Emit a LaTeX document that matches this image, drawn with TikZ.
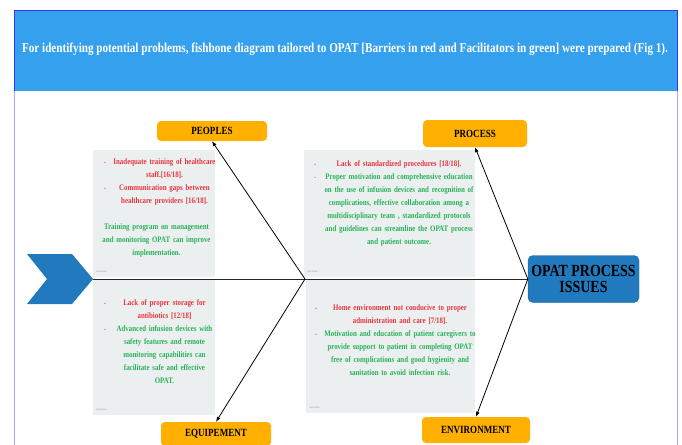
\documentclass[tikz,border=0pt]{standalone}
\usepackage{fontspec}
\setmainfont{Liberation Serif}[FakeStretch=0.82]
\usepackage{xcolor}
\usetikzlibrary{arrows.meta,positioning,calc}

\definecolor{headblue}{HTML}{35A0EE}
\definecolor{frameblue}{HTML}{3434FF}
\definecolor{issueblue}{HTML}{2179BE}
\definecolor{boneorange}{HTML}{FFB000}
\definecolor{panelgray}{HTML}{ECEFEF}
\definecolor{barred}{HTML}{E8343F}
\definecolor{facgreen}{HTML}{26B25A}

\newcommand{\rbul}{\textcolor{barred}{\tiny\textbullet}}
\newcommand{\gbul}{\textcolor{facgreen}{\tiny\textbullet}}
% one bullet point: fixed bullet column, centred text beside it
\newcommand{\bonepoint}[3]{\par\noindent\makebox[16pt][c]{#1}\parbox[t]{#2}{\centering #3\par\xdef\bonedepth{\the\prevdepth}}\par\prevdepth=\bonedepth\relax}

\tikzset{
  bone/.style={draw=black!85, line width=1pt},
  cause/.style={draw=black, line width=0.8pt, -{Latex[length=5pt,width=4pt]}},
  label box/.style={fill=boneorange, rounded corners=4pt, inner sep=0pt, font=\fontsize{11}{12}\bfseries\selectfont},
  panel/.style={fill=panelgray, inner sep=0pt},
  panel text/.style={inner sep=0pt, align=center, font=\fontsize{8.4}{13}\bfseries\selectfont},
  sign/.style={text=black!40, font=\fontsize{2.5}{3}\selectfont, inner sep=0pt, anchor=south west},
}

\begin{document}
\begin{tikzpicture}[x=1pt,y=-1pt]
\useasboundingbox (0,0) rectangle (682,444);

% Frame and header
\draw[frameblue!45, line width=1pt] (14,91) -- (14,450);
\draw[frameblue!45, line width=1pt] (677,91) -- (677,450);
\fill[headblue] (14,11) rectangle (677,91);
\draw[frameblue, line width=1pt] (14,91) -- (14,11) -- (677,11) -- (677,91);
\node[text=white, font=\fontsize{13.6}{16}\bfseries\selectfont] (title) at (345,49)
  {For identifying potential problems, fishbone diagram tailored to OPAT [Barriers in red and Facilitators in green] were prepared (Fig 1).};

% Panels
\node[panel, minimum width=122, minimum height=127] (panelA) at (154,213.5) {};
\node[panel, minimum width=171, minimum height=127] (panelB) at (389.5,213.5) {};
\node[panel, minimum width=122, minimum height=136] (panelC) at (154,347) {};
\node[panel, minimum width=169, minimum height=134] (panelD) at (390.5,346) {};

\node[sign, above right=4pt and 3pt of panelA.south west] {Amit Mathur};
\node[sign, above right=4pt and 3pt of panelB.south west] {Amit Mathur};
\node[sign, above right=4pt and 3pt of panelC.south west] {Amit Mathur};
\node[sign, above right=4pt and 3pt of panelD.south west] {Amit Mathur};

% Panel texts
\node[panel text, text width=121, anchor=north west] (textA) at ($(panelA.north west)+(3,1)$) {%
  \bonepoint{\rbul}{103pt}{\textcolor{barred}{Inadequate training of healthcare\\ staff.[16/18].}}
  \bonepoint{\rbul}{103pt}{\textcolor{barred}{Communication gaps between\\ healthcare providers [16/18].}}
  \vspace{13pt}
  \centering\textcolor{facgreen}{Training program on management\\ and monitoring OPAT can improve\\ implementation.}};
\node[panel text, text width=168, anchor=north west] (textB) at ($(panelB.north west)+(3,3)$) {%
  \bonepoint{\rbul}{152pt}{\textcolor{barred}{Lack of standardized procedures [18/18].}}
  \bonepoint{\gbul}{152pt}{\textcolor{facgreen}{Proper motivation and comprehensive education\\ on the use of infusion devices and recognition of\\ complications, effective collaboration among a\\ multidisciplinary team , standardized protocols\\ and guidelines can streamline the OPAT process\\ and patient outcome.}}};
\node[panel text, text width=121, anchor=north west] (textC) at ($(panelC.north west)+(3,13)$) {%
  \bonepoint{\rbul}{103pt}{\textcolor{barred}{Lack of proper storage for\\ antibiotics [12/18]}}
  \bonepoint{\gbul}{103pt}{\textcolor{facgreen}{Advanced infusion devices with\\ safety features and remote\\ monitoring capabilities can\\ facilitate safe and effective\\ OPAT.}}};
\node[panel text, text width=168, anchor=north west] (textD) at ($(panelD.north west)+(2,18)$) {%
  \bonepoint{\rbul}{152pt}{\textcolor{barred}{Home environment not conducive to proper\\ administration and care [7/18].}}
  \bonepoint{\gbul}{152pt}{\textcolor{facgreen}{Motivation and education of patient caregivers to\\ provide support to patient in completing OPAT\\ free of complications and good hygienity and\\ sanitation to avoid infection risk.}}};

% Tail and head of the fish
\fill[issueblue] (27,254) -- (72,254) -- (93,279) -- (72,304) -- (27,304) -- (47,279) -- cycle;
\coordinate (tail) at (93,279);
\node[fill=issueblue, draw=issueblue!80!black, rounded corners=5pt, minimum width=111, minimum height=47,
  inner sep=0pt, align=center, font=\fontsize{17}{16}\bfseries\selectfont] (issue) at (583.5,279)
  {OPAT PROCESS\\ ISSUES};

% Category boxes
\node[label box, minimum width=110, minimum height=20] (peoples) at (212,131) {PEOPLES};
\node[label box, minimum width=104, minimum height=27] (process) at (475,133.5) {PROCESS};
\node[label box, minimum width=110, minimum height=24] (equip) at (216,434) {EQUIPEMENT};
\node[label box, minimum width=108, minimum height=26] (env) at (476,430) {ENVIRONMENT};

% Spine and bones
\coordinate (joint) at (305,279);
\draw[bone] (tail) -- (issue.west);
\draw[cause] (joint) -- (peoples.south);
\draw[cause] (joint) -- (equip.north);
\draw[cause] (issue.west) -- (process.south);
\draw[cause] (issue.west) -- (env.north);
\end{tikzpicture}
\end{document}
